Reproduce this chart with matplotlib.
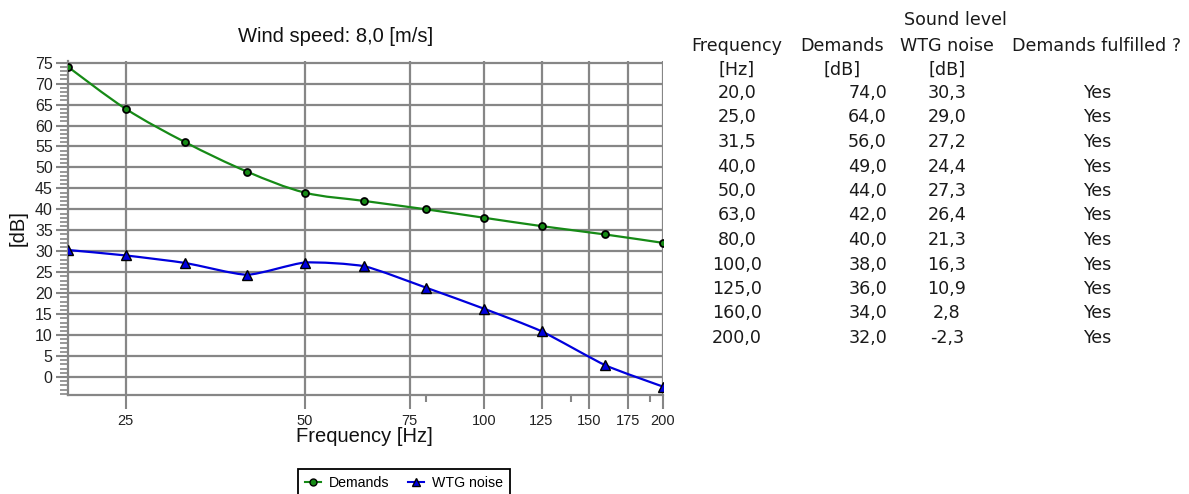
import numpy as np
import matplotlib
matplotlib.use("Agg")
import matplotlib.pyplot as plt
from matplotlib.path import Path
from matplotlib.patches import PathPatch
from matplotlib.lines import Line2D

# ---------------- data ----------------
frequencies = [20.0, 25.0, 31.5, 40.0, 50.0, 63.0, 80.0, 100.0, 125.0, 160.0, 200.0]
demands = [74.0, 64.0, 56.0, 49.0, 44.0, 42.0, 40.0, 38.0, 36.0, 34.0, 32.0]
wtg_noise = [30.3, 29.0, 27.2, 24.4, 27.3, 26.4, 21.3, 16.3, 10.9, 2.8, -2.3]
fulfilled = ["Yes"] * 11
x_major_ticks = [25, 50, 75, 100, 125, 150, 175, 200]
x_minor_ticks = [80, 140, 190]
y_major_ticks = list(range(0, 80, 5))
y_minor_ticks = list(range(-4, 76, 1))
series_labels = ["Demands", "WTG noise"]
title_text = "Wind speed: 8,0 [m/s]"

W, H = 1189, 494
fig = plt.figure(figsize=(W / 100, H / 100), dpi=100)
plt.rcParams['font.family'] = ['Liberation Sans', 'DejaVu Sans']

def fx(px):
    return px / W

def fy(py):
    return 1 - py / H

ax_l, ax_r, ax_t, ax_b = 68, 663, 61, 395
ax = fig.add_axes([fx(ax_l), fy(ax_b), (ax_r - ax_l) / W, (ax_b - ax_t) / H])
ax.set_xscale('log')
ax.set_xlim(20, 200)
ax.set_ylim(-4.3, 75.4)

grid_c = '#868686'
ax.set_xticks(x_major_ticks)
ax.set_xticklabels([str(t) for t in x_major_ticks])
ax.set_xticks(x_minor_ticks, minor=True)
ax.set_xticklabels([], minor=True)
ax.set_yticks(y_major_ticks)
ax.set_yticklabels([str(t) for t in y_major_ticks])
ax.set_yticks(y_minor_ticks, minor=True)
ax.grid(True, which='major', color=grid_c, lw=1.6)
ax.set_axisbelow(True)
for s in ['top', 'right']:
    ax.spines[s].set_visible(False)
for s in ['left', 'bottom']:
    ax.spines[s].set_color(grid_c)
    ax.spines[s].set_linewidth(1.6)
ax.tick_params(axis='x', which='major', length=10, width=1.5, color=grid_c,
               labelsize=10.5, pad=4, labelcolor='#222222')
ax.tick_params(axis='x', which='minor', length=5, width=1.5, color=grid_c)
ax.tick_params(axis='y', which='major', length=9, width=1.5, color=grid_c,
               labelsize=11.5, pad=2, labelcolor='#222222')
ax.tick_params(axis='y', which='minor', length=6, width=1.2, color=grid_c)


def smooth_path(xs, ys, k=9.0):
    u = np.log10(np.asarray(xs, float))
    v = np.asarray(ys, float)
    n = len(u)
    verts = [(xs[0], ys[0])]
    codes = [Path.MOVETO]
    for i in range(n - 1):
        p0 = i - 1 if i > 0 else i
        p3 = i + 2 if i + 2 < n else i + 1
        c1u = u[i] + (u[i + 1] - u[p0]) / k
        c1v = v[i] + (v[i + 1] - v[p0]) / k
        c2u = u[i + 1] - (u[p3] - u[i]) / k
        c2v = v[i + 1] - (v[p3] - v[i]) / k
        verts += [(10 ** c1u, c1v), (10 ** c2u, c2v), (xs[i + 1], ys[i + 1])]
        codes += [Path.CURVE4] * 3
    return Path(verts, codes)


green = '#168a16'
blue = '#0000dd'
ax.add_patch(PathPatch(smooth_path(frequencies, demands, 6.0), fill=False,
                       edgecolor=green, lw=1.6, zorder=3))
ax.add_patch(PathPatch(smooth_path(frequencies, wtg_noise, 10.0), fill=False,
                       edgecolor=blue, lw=1.6, zorder=3))
ax.plot(frequencies, demands, ls='none', marker='o', ms=5, mfc=green,
        mec='black', mew=1.3, zorder=4)
ax.plot(frequencies, wtg_noise, ls='none', marker='^', ms=6.5, mfc=blue,
        mec='black', mew=1.0, zorder=4)

fig.text(fx(336), fy(36), title_text, ha='center', va='center', fontsize=14.5,
         color='#111111')
fig.text(fx(364), fy(436), "Frequency [Hz]", ha='center', va='center',
         fontsize=14.5, color='#111111')
fig.text(fx(18), fy(228), "[dB]", ha='center', va='center', rotation=90,
         fontsize=14.5, color='#111111')

handles = [
    Line2D([], [], color=green, lw=1.5, marker='o', ms=5, mfc=green, mec='black'),
    Line2D([], [], color=blue, lw=1.5, marker='^', ms=6, mfc=blue, mec='black'),
]
leg = fig.legend(handles, series_labels, loc='upper center',
                 bbox_to_anchor=(fx(404), fy(469)), ncol=2, frameon=True,
                 fancybox=False, edgecolor='black', framealpha=1,
                 handlelength=1.1, handletextpad=0.6, columnspacing=1.3,
                 borderpad=0.5, fontsize=10.2, borderaxespad=0)
leg.get_frame().set_linewidth(1.3)

# ---------------- table ----------------
tf = dict(fontsize=12.6, family='DejaVu Sans', color='#1a1a1a', va='center')
col_freq = 737
col_dem_c = 842
col_dem_r = 887
col_wtg = 947
col_ok = 1097
fig.text(fx(955), fy(20), "Sound level", ha='center', **tf)
fig.text(fx(col_freq), fy(46), "Frequency", ha='center', **tf)
fig.text(fx(col_dem_c), fy(46), "Demands", ha='center', **tf)
fig.text(fx(col_wtg), fy(46), "WTG noise", ha='center', **tf)
fig.text(fx(col_ok), fy(46), "Demands fulfilled ?", ha='center', **tf)
fig.text(fx(col_freq), fy(70), "[Hz]", ha='center', **tf)
fig.text(fx(col_dem_c), fy(70), "[dB]", ha='center', **tf)
fig.text(fx(col_wtg), fy(70), "[dB]", ha='center', **tf)


def fmt(v):
    return f"{v:.1f}".replace('.', ',')


for i, (f, d, w, ok) in enumerate(zip(frequencies, demands, wtg_noise, fulfilled)):
    yy = 93 + 24.5 * i
    fig.text(fx(col_freq), fy(yy), fmt(f), ha='center', **tf)
    fig.text(fx(col_dem_r), fy(yy), fmt(d), ha='right', **tf)
    fig.text(fx(col_wtg), fy(yy), fmt(w), ha='center', **tf)
    fig.text(fx(col_ok), fy(yy), ok, ha='center', **tf)

fig.savefig("out.png", dpi=100)
